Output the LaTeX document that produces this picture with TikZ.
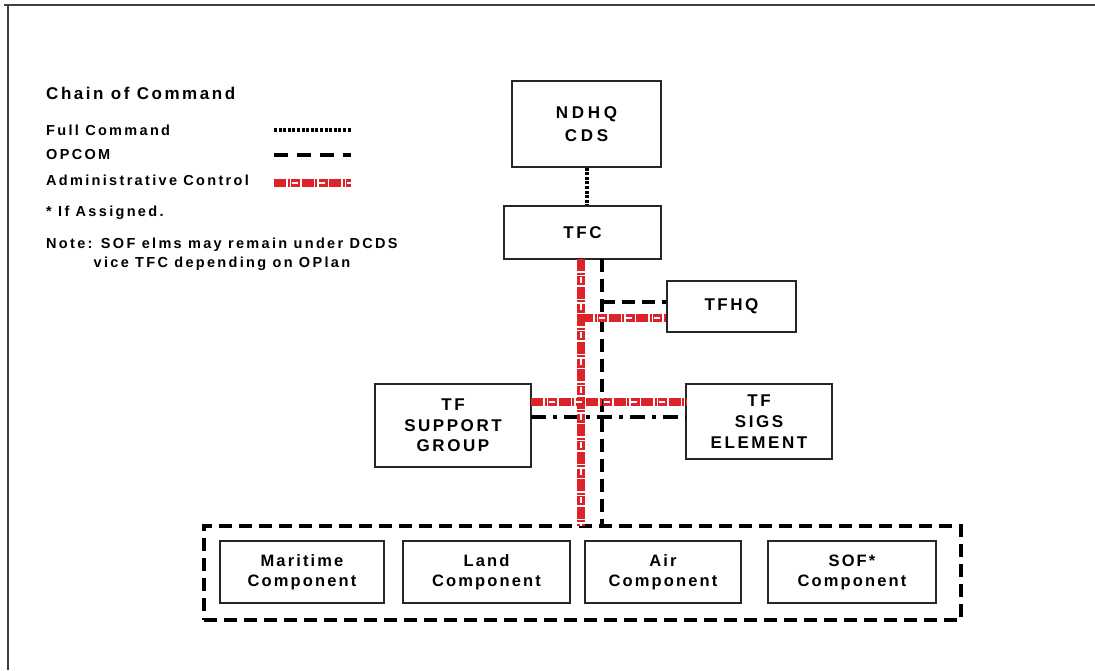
\documentclass[tikz,border=0pt]{standalone}
\usepackage{fontspec}
\newfontfamily\dfont{Liberation Sans}[LetterSpace=15]
\newfontfamily\lfont{Liberation Sans}[LetterSpace=16]
\newfontfamily\cfont{Liberation Sans}[LetterSpace=13]
\newfontfamily\efont{Liberation Sans}[LetterSpace=22]
\definecolor{admred}{RGB}{222,34,42}
\begin{document}
\begin{tikzpicture}[x=1pt,y=-1pt,
  box/.style={draw=black!85,line width=1.3pt,fill=white,inner sep=0pt,align=center,
     font=\dfont\bfseries\fontsize{17}{21}\selectfont},
  comp/.style={box,font=\cfont\bfseries\fontsize{16.5}{20}\selectfont},
  leg/.style={anchor=west,inner sep=0pt,font=\lfont\bfseries\fontsize{14.5}{19}\selectfont},
  fullcmd/.style={line width=4pt,dash pattern=on 3pt off 1.6pt},
  opcom/.style={line width=4pt,dash pattern=on 13pt off 7pt},
  dashdot/.style={line width=4pt,dash pattern=on 15pt off 7pt on 4pt off 7pt},
  admA/.style={admred,line width=7.5pt,dash pattern=on 12pt off 1.5pt on 2pt off 1.5pt on 9pt off 1.5pt},
  admB/.style={white,line width=2.5pt,dash pattern=on 6pt off 21.5pt,dash phase=10pt},
]
\useasboundingbox (0,0) rectangle (1095,670);
\fill[white] (0,0) rectangle (1095,670);
% frame
\draw[black!75,line width=2pt] (4,5) -- (1095,5);
\draw[black!75,line width=2pt] (8,5) -- (8,670);

% legend
\node[leg,font=\dfont\bfseries\fontsize{17}{21}\selectfont] (title) at (46,93) {Chain of Command};
\node[leg] (lfull) at (46,130) {Full Command};
\node[leg] (lop) at (46,155) {OPCOM};
\node[leg] (ladm) at (46,180) {Administrative Control};
\node[leg] (lassg) at (46,213) {* If Assigned.};
\node[leg,align=center] (lnote) at (46,254) {Note: SOF elms may remain under DCDS\\vice TFC depending on OPlan};
\coordinate (f1) at (274,130); \coordinate (f2) at (351,130);
\coordinate (o1) at (274,155); \coordinate (o2) at (351,155);
\coordinate (a1) at (274,183); \coordinate (a2) at (351,183);
\draw[fullcmd] (f1) -- (f2);
\draw[opcom,dash pattern=on 14pt off 9pt] (o1) -- (o2);
\draw[admA] (a1) -- (a2);
\draw[admB] (a1) -- (a2);

% nodes
\node[box,minimum width=149pt,minimum height=86pt,font=\efont\bfseries\fontsize{17}{23}\selectfont] (ndhq) at (586.5,124) {NDHQ\\CDS};
\node[box,minimum width=157pt,minimum height=53pt] (tfc) at (582.5,232.5) {TFC};
\node[box,minimum width=129pt,minimum height=51pt] (tfhq) at (731.5,306.5) {\raisebox{3pt}{TFHQ}};
\node[box,minimum width=156pt,minimum height=83pt,font=\dfont\bfseries\fontsize{17}{20.5}\selectfont] (tfsg) at (453,425.5) {TF\\SUPPORT\\GROUP};
\node[box,minimum width=146pt,minimum height=75pt,font=\dfont\bfseries\fontsize{17}{21}\selectfont] (tfsig) at (759,421.5) {TF\\SIGS\\ELEMENT};

% group
\node[draw,opcom,minimum width=757pt,minimum height=94pt,inner sep=0pt] (grp) at (582.5,573) {};
\node[comp,minimum width=164pt,minimum height=62pt] (mar) at (302,572) {Maritime\\Component};
\node[comp,minimum width=167pt,minimum height=62pt] (land) at (486.5,572) {Land\\Component};
\node[comp,minimum width=156pt,minimum height=62pt] (air) at (663,572) {Air\\Component};
\node[comp,minimum width=168pt,minimum height=62pt] (sof) at (852,572) {\raisebox{-7pt}{\begin{tabular}{@{}c@{}}SOF*\\Component\end{tabular}}};

% connectors
\draw[fullcmd] (ndhq.south) -- (ndhq.south |- tfc.north);
\coordinate (rTop) at (581,259);
\coordinate (rBot) at (581,526);
\coordinate (bTop) at (602,259);
\coordinate (bBot) at (602,526);
\coordinate (bHQ) at (602,302);
\coordinate (rHQ) at (581,318);
\coordinate (rSG) at (531,402);
\coordinate (rSI) at (686,402);
\coordinate (dSG) at (531,417);
\coordinate (dSI) at (686,417);

\draw[opcom] (bTop) -- (bBot);
\draw[opcom] (bHQ) -- (bHQ -| tfhq.west);
\draw[dashdot] (dSG) -- (dSI);
\draw[admA] (rTop) -- (rBot);
\draw[admB] (rTop) -- (rBot);
\draw[admA] (rHQ) -- (rHQ -| tfhq.west);
\draw[admB] (rHQ) -- (rHQ -| tfhq.west);
\draw[admA] (rSG) -- (rSI);
\draw[admB] (rSG) -- (rSI);
\end{tikzpicture}
\end{document}
